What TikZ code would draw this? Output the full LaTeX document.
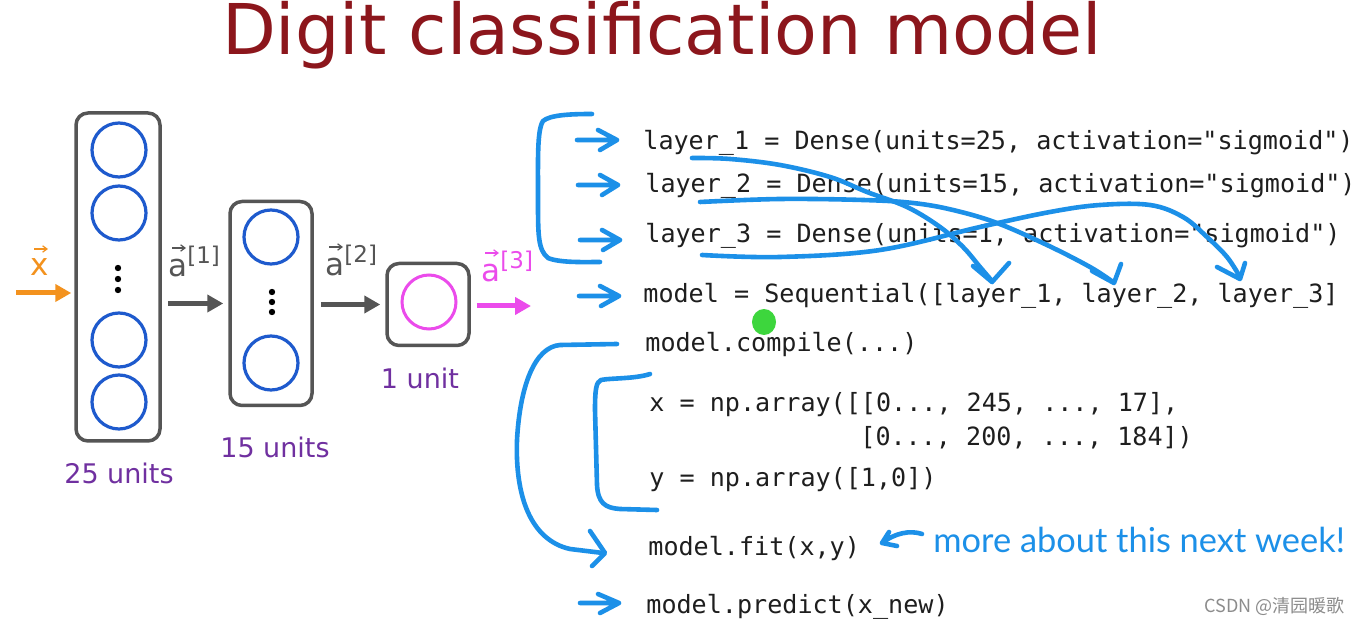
\documentclass[tikz,border=0pt]{standalone}
\usepackage{fontspec}
\setmainfont{DejaVu Sans}
\newfontfamily\codefont{DejaVu Sans Mono}[Ligatures=TeXOff]
\newfontfamily\handfont{Lato}
\newfontfamily\cjkfont{Noto Sans CJK SC}
\usetikzlibrary{arrows.meta}
\definecolor{titlered}{RGB}{140,22,28}
\definecolor{boxgray}{RGB}{85,85,85}
\definecolor{nblue}{RGB}{30,90,205}
\definecolor{mag}{RGB}{235,75,235}
\definecolor{orng}{RGB}{243,146,30}
\definecolor{purp}{RGB}{112,48,160}
\definecolor{handblue}{RGB}{28,144,232}
\definecolor{codeblack}{RGB}{30,30,30}
\definecolor{wmgray}{RGB}{140,140,140}
\definecolor{laser}{RGB}{40,210,40}
\tikzset{
  layerbox/.style={draw=boxgray, line width=1.75pt, rounded corners=6pt, inner sep=0},
  neuron/.style={circle, draw=nblue, line width=1.6pt, minimum size=27pt, inner sep=0},
  outneuron/.style={circle, draw=mag, line width=1.5pt, minimum size=27pt, inner sep=0},
  vdot/.style={circle, fill=black, minimum size=3.2pt, inner sep=0},
  codeline/.style={anchor=base west, inner sep=0, text=codeblack, font=\codefont\fontsize{12.55pt}{14pt}\selectfont},
  hand/.style={draw=handblue, line width=2.3pt, line cap=round, line join=round},
  unitlbl/.style={text=purp, inner sep=0, font=\fontsize{13.5pt}{16pt}\selectfont},
  veclbl/.style={inner sep=0, anchor=base west, font=\fontsize{15.5pt}{18pt}\selectfont},
  vecarrow/.style={line width=0.6pt, -{Straight Barb[length=2.2pt,width=3.2pt]}},
  flowarrow/.style={line width=2.5pt, -{Triangle[length=8pt,width=8.5pt]}}
}
\newcommand{\suplbl}[1]{\raisebox{6.5pt}{\fontsize{11.5pt}{13pt}\selectfont[#1]}}
\begin{document}
\begin{tikzpicture}[x=0.5pt,y=-0.5pt]
\useasboundingbox[fill=white] (0,0) rectangle (1358,624);

% title
\node[inner sep=0, anchor=base, text=titlered, font=\fontsize{35pt}{40pt}\selectfont] (title) at (662,55) {Digit classification model};

% network
\node[layerbox, minimum width=42pt, minimum height=164pt] (b1) at (118,277) {};
\node[layerbox, minimum width=41pt, minimum height=102pt] (b2) at (271,303.5) {};
\node[layerbox, minimum width=41pt, minimum height=41pt] (b3) at (428,304.5) {};

\node[neuron] (n11) at (119,150) {};
\node[neuron] (n12) at (119,213) {};
\node[neuron] (n13) at (119,340) {};
\node[neuron] (n14) at (119,402) {};
\node[vdot] (d11) at (118,268) {};
\node[vdot] (d12) at (118,279) {};
\node[vdot] (d13) at (118,290) {};

\node[neuron] (n21) at (271,237) {};
\node[neuron] (n22) at (271,363) {};
\node[vdot] (d21) at (272,292) {};
\node[vdot] (d22) at (272,302) {};
\node[vdot] (d23) at (272,312) {};

\node[outneuron] (n31) at (429,302) {};

\node[unitlbl] (u1) at (119,473) {25 units};
\node[unitlbl] (u2) at (275,447) {15 units};
\node[unitlbl] (u3) at (420,378) {1 unit};

\node[veclbl, text=orng] (xl) at (30,276) {x};
\node[veclbl, text=boxgray] (a1) at (168,277) {a\suplbl{1}};
\node[veclbl, text=boxgray] (a2) at (325,276) {a\suplbl{2}};
\node[veclbl, text=mag] (a3) at (481,282) {a\suplbl{3}};
\draw[vecarrow, orng] ([shift={(4,-27)}]xl.base west) -- ++(14,0);
\draw[vecarrow, boxgray] ([shift={(4,-29)}]a1.base west) -- ++(14,0);
\draw[vecarrow, boxgray] ([shift={(4,-29)}]a2.base west) -- ++(14,0);
\draw[vecarrow, mag] ([shift={(4,-29)}]a3.base west) -- ++(14,0);

\coordinate (xin) at (16,293);
\coordinate (aout) at (531,306);
\draw[flowarrow, orng, shorten >=1.5pt] (xin) -- (b1.west |- xin);
\draw[flowarrow, boxgray, shorten <=3pt, shorten >=2.5pt] (b1.east |- b2.center) -- (b2.west);
\draw[flowarrow, boxgray, shorten <=3.5pt, shorten >=2.5pt] (b2.east |- b3.center) -- (b3.west);
\draw[flowarrow, mag, shorten <=3pt] (b3.east |- aout) -- (aout);

% code
\node[codeline] (l1) at (643,150) {layer\_1 = Dense(units=25, activation="sigmoid")};
\node[codeline] (l2) at (645,193) {layer\_2 = Dense(units=15, activation="sigmoid")};
\node[codeline] (l3) at (645,243) {layer\_3 = Dense(units=1, activation="sigmoid")};
\node[codeline] (lm) at (643,303) {model = Sequential([layer\_1, layer\_2, layer\_3]};
\node[codeline] (lc) at (645,352) {model.compile(...)};
\node[codeline] (lx) at (649,412) {x = np.array([[0..., 245, ..., 17],};
\node[codeline] (lx2) at (860,445) {[0..., 200, ..., 184])};
\node[codeline] (ly) at (649,487) {y = np.array([1,0])};
\node[codeline] (lf) at (648,555) {model.fit(x,y)};
\node[codeline] (lp) at (646,613) {model.predict(x\_new)};

% laser pointer dot
\fill[laser, opacity=0.9] (764,322) ellipse [x radius=12, y radius=13];

% hand-drawn annotations
\draw[hand] (592,114) .. controls (570,114) and (550,115) .. (543,121) .. controls (537,130) and (538,160) .. (538,200) .. controls (538,235) and (538,250) .. (548,258) .. controls (560,263) and (585,262) .. (600,262);
\draw[hand] (577,140) -- (617,140) (598,130) -- (617,140) -- (600,150);
\draw[hand] (578,185) -- (618,185) (600,175) -- (618,185) -- (602,195);
\draw[hand] (580,240) -- (620,240) (602,230) -- (620,240) -- (603,250);
\draw[hand] (579,296) -- (619,296) (600,286) -- (619,296) -- (601,306);
\draw[hand] (580,603) -- (619,603) (598,594) -- (619,603) -- (600,613);

\draw[hand] plot[smooth, tension=0.6] coordinates {(692,158) (730,159) (780,165) (830,177) (867,192) (907,207) (940,227) (963,247) (980,267) (992,281)};
\draw[hand] (973,266) -- (992,282) -- (1009,263);
\draw[hand] plot[smooth, tension=0.6] coordinates {(700,202) (780,199) (863,200) (913,203) (953,210) (997,223) (1047,245) (1090,267) (1113,282)};
\draw[hand] (1092,271) -- (1114,283) -- (1121,264);
\draw[hand] plot[smooth, tension=0.6] coordinates {(702,255) (780,257) (880,250) (980,227) (1050,212) (1100,205) (1150,205) (1183,217) (1207,237) (1227,257) (1240,277)};
\draw[hand] (1217,267) -- (1240,279) -- (1245,263);

\draw[hand] (617,344) -- (560,345) .. controls (535,347) and (520,385) .. (517,440) .. controls (515,495) and (530,540) .. (570,549) -- (603,553);
\draw[hand] (590,531) -- (605,553) -- (592,566);
\draw[hand] (650,374) .. controls (635,379) and (610,378) .. (601,380) .. controls (596,382) and (595,390) .. (595,410) -- (597,485) .. controls (598,503) and (605,508) .. (620,509) -- (657,510);

\draw[hand] (922,534) .. controls (910,530) and (895,533) .. (882,543) -- (889,532) (882,543) -- (897,546);
\node[inner sep=0, anchor=base west, text=handblue, font=\handfont\fontsize{17.2pt}{19pt}\selectfont] (note) at (933,552) {more about this next week!};

% watermark
\node[inner sep=0, anchor=base east, text=wmgray, font=\cjkfont\fontsize{9pt}{10pt}\selectfont] (wm) at (1345,612) {CSDN @清园暖歌};
\end{tikzpicture}
\end{document}
